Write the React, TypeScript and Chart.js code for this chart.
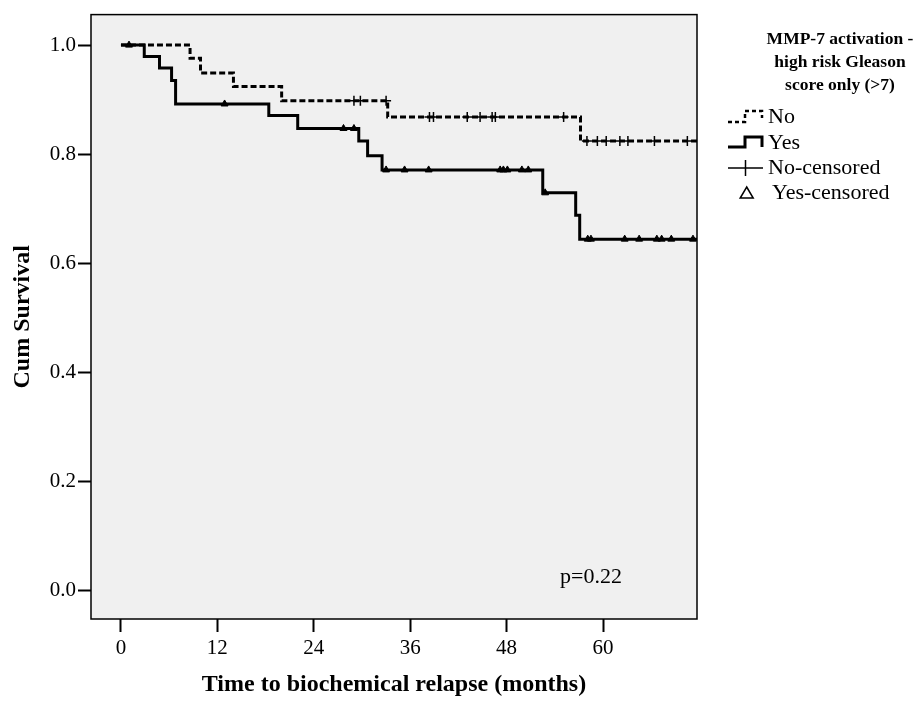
import React, { useEffect, useRef } from 'react';
import { Chart, registerables } from 'chart.js';

Chart.register(...registerables);

// Kaplan-Meier step curves (time in months, cumulative survival)
const yesTimes = [0, 2.9, 4.8, 6.3, 6.8, 18.4, 22.0, 29.6, 30.7, 32.5, 52.5, 56.6, 57.1, 72];
const yesSurvival = [1.0, 0.979, 0.958, 0.935, 0.892, 0.871, 0.847, 0.824, 0.797, 0.771, 0.729, 0.688, 0.644, 0.644];
const noTimes = [0, 8.6, 9.9, 14.0, 20.0, 33.2, 57.2, 72];
const noSurvival = [1.0, 0.976, 0.949, 0.924, 0.898, 0.868, 0.824, 0.824];

// Censored observations
const yesCensorTimes = [1.0, 12.9, 27.7, 29.0, 33.0, 35.3, 38.3, 47.2, 47.6, 48.1, 49.9, 50.7, 52.8, 58.1, 58.5, 62.7, 64.5, 66.7, 67.3, 68.5, 71.2];
const yesCensorSurvival = [1.0, 0.892, 0.847, 0.847, 0.771, 0.771, 0.771, 0.771, 0.771, 0.771, 0.771, 0.771, 0.729, 0.644, 0.644, 0.644, 0.644, 0.644, 0.644, 0.644, 0.644];
const noCensorTimes = [29.0, 29.8, 33.0, 38.4, 38.9, 43.1, 44.7, 46.2, 46.6, 55.1, 58.0, 59.3, 60.4, 62.1, 63.1, 66.4, 70.5];
const noCensorSurvival = [0.898, 0.898, 0.898, 0.868, 0.868, 0.868, 0.868, 0.868, 0.868, 0.868, 0.824, 0.824, 0.824, 0.824, 0.824, 0.824, 0.824];

const xTicks = [0, 12, 24, 36, 48, 60];
const yTicks = [0.0, 0.2, 0.4, 0.6, 0.8, 1.0];
const xMin = -3.73;
const xMax = 71.7;
const yMin = -0.053;
const yMax = 1.056;

const xTitle = 'Time to biochemical relapse (months)';
const yTitle = 'Cum Survival';
const legendTitle = ['MMP-7 activation -', 'high risk Gleason', 'score only (>7)'];
const legendLabels = ['No', 'Yes', 'No-censored', 'Yes-censored'];
const pValueText = 'p=0.22';

const FONT = '"Liberation Serif", "Times New Roman", serif';

const toPoints = (xs: number[], ys: number[]) => xs.map((x, i) => ({ x, y: ys[i] }));

const decorPlugin = {
  id: 'decor',
  beforeDraw(chart: any) {
    const { ctx, chartArea: a } = chart;
    ctx.save();
    ctx.fillStyle = '#ffffff';
    ctx.fillRect(0, 0, chart.width, chart.height);
    ctx.fillStyle = '#f0f0f0';
    ctx.fillRect(a.left, a.top, a.right - a.left, a.bottom - a.top);
    ctx.restore();
  },
  afterDraw(chart: any) {
    const { ctx, chartArea: a } = chart;
    ctx.save();
    // frame
    ctx.strokeStyle = '#000';
    ctx.lineWidth = 1.5;
    ctx.strokeRect(a.left, a.top, a.right - a.left, a.bottom - a.top);

    // p-value
    ctx.fillStyle = '#000';
    ctx.font = `22px ${FONT}`;
    ctx.textAlign = 'left';
    ctx.textBaseline = 'middle';
    ctx.fillText(pValueText, 560, 577);

    // legend title
    ctx.font = `bold 17.5px ${FONT}`;
    ctx.textAlign = 'center';
    const titleYs = [39, 62, 85];
    legendTitle.forEach((t, i) => ctx.fillText(t, 840, titleYs[i]));

    // legend items
    const rows = [117, 143, 168, 193];
    // No: dashed step
    ctx.lineWidth = 2.5;
    ctx.setLineDash([4, 3]);
    ctx.beginPath();
    ctx.moveTo(728, rows[0] + 5);
    ctx.lineTo(745, rows[0] + 5);
    ctx.lineTo(745, rows[0] - 6);
    ctx.lineTo(762, rows[0] - 6);
    ctx.lineTo(762, rows[0] + 1);
    ctx.stroke();
    ctx.setLineDash([]);
    // Yes: solid step
    ctx.lineWidth = 3;
    ctx.beginPath();
    ctx.moveTo(728, rows[1] + 4);
    ctx.lineTo(745, rows[1] + 4);
    ctx.lineTo(745, rows[1] - 6);
    ctx.lineTo(762, rows[1] - 6);
    ctx.lineTo(762, rows[1] + 4);
    ctx.stroke();
    // No-censored: cross
    ctx.lineWidth = 1.5;
    ctx.beginPath();
    ctx.moveTo(728, rows[2]);
    ctx.lineTo(763, rows[2]);
    ctx.moveTo(745.5, rows[2] - 8);
    ctx.lineTo(745.5, rows[2] + 8);
    ctx.stroke();
    // Yes-censored: triangle outline
    ctx.beginPath();
    ctx.moveTo(746.7, rows[3] - 6);
    ctx.lineTo(753.2, rows[3] + 5);
    ctx.lineTo(740.2, rows[3] + 5);
    ctx.closePath();
    ctx.stroke();

    ctx.font = `22px ${FONT}`;
    ctx.textAlign = 'left';
    ctx.fillText(legendLabels[0], 768, rows[0]);
    ctx.fillText(legendLabels[1], 768, rows[1]);
    ctx.fillText(legendLabels[2], 768, rows[2]);
    ctx.fillText(legendLabels[3], 772, rows[3]);
    ctx.restore();
  },
};

export default function App() {
  const canvasRef = useRef<HTMLCanvasElement | null>(null);

  useEffect(() => {
    if (!canvasRef.current) return;
    const chart = new Chart(canvasRef.current, {
      type: 'line',
      data: {
        datasets: [
          {
            label: 'No-censored',
            type: 'scatter',
            data: toPoints(noCensorTimes, noCensorSurvival),
            pointStyle: 'cross',
            pointRadius: 5,
            pointBorderWidth: 1.5,
            borderColor: '#000',
            backgroundColor: '#000',
            showLine: false,
            order: 0,
          } as any,
          {
            label: 'Yes-censored',
            type: 'scatter',
            data: toPoints(yesCensorTimes, yesCensorSurvival),
            pointStyle: 'triangle',
            pointRadius: 4,
            pointBorderWidth: 1,
            borderColor: '#000',
            backgroundColor: '#000',
            showLine: false,
            order: 0,
          } as any,
          {
            label: 'No',
            data: toPoints(noTimes, noSurvival),
            stepped: 'before',
            borderColor: '#000',
            borderWidth: 3,
            borderDash: [6, 3],
            pointRadius: 0,
            fill: false,
            order: 1,
          },
          {
            label: 'Yes',
            data: toPoints(yesTimes, yesSurvival),
            stepped: 'before',
            borderColor: '#000',
            borderWidth: 3,
            pointRadius: 0,
            fill: false,
            order: 1,
          },
        ],
      },
      options: {
        animation: false,
        responsive: false,
        events: [],
        layout: { padding: { left: 0, top: 9, right: 220, bottom: 0 } },
        plugins: {
          legend: { display: false },
          tooltip: { enabled: false },
        },
        scales: {
          x: {
            type: 'linear',
            min: xMin,
            max: xMax,
            afterBuildTicks: (scale: any) => {
              scale.ticks = xTicks.map((v) => ({ value: v }));
            },
            afterFit: (scale: any) => {
              scale.height = 83;
            },
            ticks: {
              color: '#000',
              font: { family: FONT, size: 21 },
              padding: 4,
              maxRotation: 0,
              callback: (v: any) => String(v),
            },
            grid: {
              drawOnChartArea: false,
              drawTicks: true,
              tickLength: 13,
              tickWidth: 2,
              tickColor: '#000',
              color: '#000',
            },
            border: { display: false },
            title: {
              display: true,
              text: xTitle,
              color: '#000',
              font: { family: FONT, size: 24, weight: 'bold' },
              padding: { top: 0, bottom: 3 },
            },
          },
          y: {
            type: 'linear',
            min: yMin,
            max: yMax,
            afterBuildTicks: (scale: any) => {
              scale.ticks = yTicks.map((v) => ({ value: v }));
            },
            afterFit: (scale: any) => {
              scale.width = 91;
            },
            ticks: {
              color: '#000',
              font: { family: FONT, size: 21 },
              padding: 2,
              callback: (v: any) => Number(v).toFixed(1),
            },
            grid: {
              drawOnChartArea: false,
              drawTicks: true,
              tickLength: 13,
              tickWidth: 2,
              tickColor: '#000',
              color: '#000',
            },
            border: { display: false },
            title: {
              display: true,
              text: yTitle,
              color: '#000',
              font: { family: FONT, size: 24, weight: 'bold' },
              padding: { top: 8.6, bottom: 0 },
            },
          },
        },
      },
      plugins: [decorPlugin],
    } as any);
    return () => chart.destroy();
  }, []);

  return (
    <div style={{ position: 'absolute', left: 0, top: 0, width: 917, height: 702, background: '#fff' }}>
      <canvas ref={canvasRef} width={917} height={702} style={{ display: 'block' }} />
    </div>
  );
}
